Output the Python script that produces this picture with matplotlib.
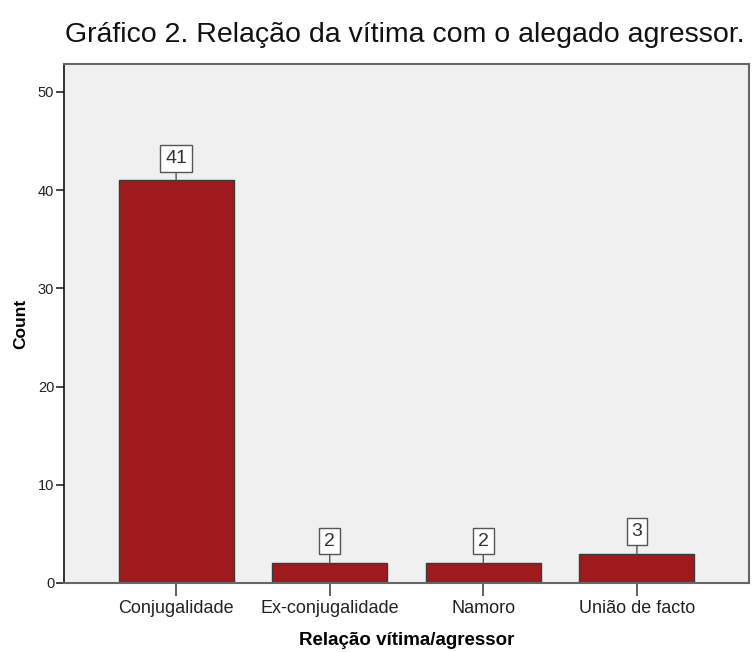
import matplotlib
matplotlib.use("Agg")
import matplotlib.pyplot as plt

categories = ["Conjugalidade", "Ex-conjugalidade", "Namoro", "União de facto"]
counts = [41, 2, 2, 3]
yticks = [0, 10, 20, 30, 40, 50]

plt.rcParams['font.family'] = ['Liberation Sans', 'DejaVu Sans']

fig = plt.figure(figsize=(7.52, 6.52), dpi=100)
ax = fig.add_axes([64/752, 1-583/652, (749-64)/752, (583-64)/652])
ax.set_facecolor('#f0f0f0')

x = list(range(len(categories)))
ax.bar(x, counts, width=0.75, color='#9e1a1d', edgecolor='#3a3a3a', linewidth=1.0, zorder=2)

for xi, v in zip(x, counts):
    ax.annotate(str(v), xy=(xi, v), xytext=(0, 16), textcoords='offset points',
                ha='center', va='center', fontsize=14, color='#333333',
                bbox=dict(boxstyle='square,pad=0.25', fc='white', ec='#555555', lw=1.0),
                arrowprops=dict(arrowstyle='-', color='#555555', lw=1.0, shrinkA=0, shrinkB=0),
                zorder=3)

ax.set_xlim(-0.73, 3.73)
ax.set_ylim(0, 52.85)
ax.set_xticks(x)
ax.set_xticklabels(categories, fontsize=13, color='#222222')
ax.set_yticks(yticks)
ax.set_yticklabels([str(t) for t in yticks], fontsize=10.5, color='#222222')
ax.tick_params(axis='x', length=9, width=1.2, color='#444444', pad=3)
ax.tick_params(axis='y', length=6, width=1.2, color='#222222', pad=1)

for s in ['top', 'right', 'bottom']:
    ax.spines[s].set_color('#666666')
    ax.spines[s].set_linewidth(1.5)
ax.spines['left'].set_color('#111111')
ax.spines['left'].set_linewidth(1.2)

ax.set_xlabel("Relação vítima/agressor", fontsize=13.5, fontweight='bold', labelpad=11)
ax.set_ylabel("Count", fontsize=12.5, fontweight='bold', labelpad=7)

fig.text(405/752, 1-35/652, "Gráfico 2. Relação da vítima com o alegado agressor.",
         ha='center', va='center', fontsize=20.5, color='#111111')

fig.savefig("out.png", dpi=100)
